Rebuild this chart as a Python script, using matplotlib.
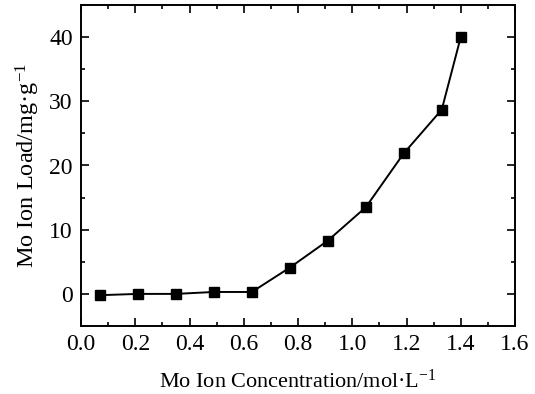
import matplotlib
matplotlib.use("Agg")
import matplotlib.pyplot as plt
from matplotlib.ticker import MultipleLocator

# Mo ion load vs. concentration
conc = [0.07, 0.21, 0.35, 0.49, 0.63, 0.77, 0.91, 1.05, 1.19, 1.33, 1.40]
load = [-0.2, 0.0, 0.0, 0.3, 0.3, 4.1, 8.3, 13.5, 21.9, 28.7, 40.0]

plt.rcParams["font.family"] = ["Liberation Serif", "DejaVu Serif"]
plt.rcParams["mathtext.fontset"] = "custom"
plt.rcParams["mathtext.rm"] = "Liberation Serif"
plt.rcParams["mathtext.default"] = "regular"

fig = plt.figure(figsize=(5.35, 3.94), dpi=100)
ax = fig.add_axes([81 / 535, 1 - 326 / 394, 434 / 535, 321 / 394])

ax.plot(conc, load, color="black", linewidth=1.4, marker="s", markersize=6.5)

ax.set_xlim(0.0, 1.6)
ax.set_ylim(-5, 45)
ax.xaxis.set_major_locator(MultipleLocator(0.2))
ax.xaxis.set_minor_locator(MultipleLocator(0.1))
ax.yaxis.set_major_locator(MultipleLocator(10))
ax.yaxis.set_minor_locator(MultipleLocator(5))
ax.tick_params(which="both", direction="in", top=True, right=True, width=1.2)
ax.tick_params(which="major", length=6, labelsize=17, pad=6)
ax.tick_params(which="minor", length=3)
for s in ax.spines.values():
    s.set_linewidth(1.4)

ax.set_xlabel("Mo Ion Concentration/mol·L$^{-1}$", fontsize=16, labelpad=10)
ax.set_ylabel("Mo Ion Load/mg·g$^{-1}$", fontsize=17.5, labelpad=5)

fig.savefig("out.png", dpi=100)
